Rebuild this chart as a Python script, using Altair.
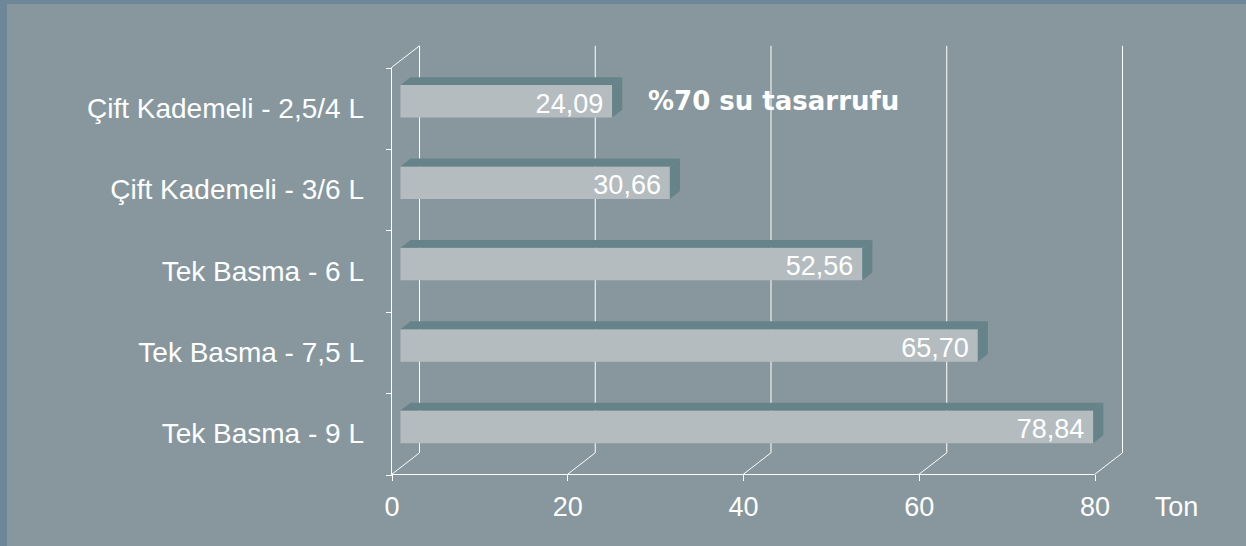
import altair as alt
import pandas as pd

# ---------------- data ----------------
CATEGORIES = [
    "Çift Kademeli - 2,5/4 L",
    "Çift Kademeli - 3/6 L",
    "Tek Basma - 6 L",
    "Tek Basma - 7,5 L",
    "Tek Basma - 9 L",
]
VALUES = [24.09, 30.66, 52.56, 65.70, 78.84]
VALUE_LABELS = ["24,09", "30,66", "52,56", "65,70", "78,84"]
X_TICKS = [0, 20, 40, 60, 80]
UNIT = "Ton"
NOTE = "%70 su tasarrufu"

# ---------------- layout / style ----------------
W, H = 1246, 546
X0_PX, PX_PER_X = 391.5, 8.7875      # pixel of value 0, pixels per unit
Y0_PX, PX_PER_BAND = 67.5, 81.4      # pixel of first band edge, band height
DEPTH_PX = (28.0, -21.7)             # 3D depth vector of the walls
BAR_DEPTH = (0.32, 0.68)             # bar front / back depth fractions
BAR_HALF = 0.2                       # half bar thickness in band units

BORDER = "#6e8798"
BG = "#87979d"
BAR_FRONT = "#b4bcbf"
BAR_DARK = "#66838a"
LINE = "#ffffff"
FONT = "Liberation Sans"
FONT_BOLD = "DejaVu Sans"

dxu = DEPTH_PX[0] / PX_PER_X
dyu = DEPTH_PX[1] / PX_PER_BAND
N = len(CATEGORIES)
FLOOR_PX = Y0_PX + N * PX_PER_BAND

x_scale = alt.Scale(domain=[-X0_PX / PX_PER_X, (W - X0_PX) / PX_PER_X], nice=False, zero=False)
y_scale = alt.Scale(domain=[-Y0_PX / PX_PER_BAND, (H - Y0_PX) / PX_PER_BAND],
                    nice=False, zero=False, reverse=True)

X_AXIS = alt.Axis(values=X_TICKS, orient="bottom", offset=-(H - FLOOR_PX), domain=False,
                  grid=False, ticks=True, tickSize=6, tickColor=LINE, tickWidth=1,
                  labelColor="white", labelFont=FONT, labelFontSize=27,
                  labelBaseline="alphabetic", labelPadding=35, labelFlush=False,
                  labelOverlap=False, labelBound=False, zindex=1,
                  title=UNIT, titleX=1176, titleY=41, titleAlign="center",
                  titleBaseline="alphabetic", titleAngle=0, titleFont=FONT,
                  titleFontSize=27, titleFontWeight="normal", titleColor="white")
Y_AXIS = alt.Axis(values=list(range(N + 1)), orient="left", offset=-X0_PX, domain=False,
                  grid=False, labels=False, ticks=True, tickSize=6, tickColor=LINE,
                  tickWidth=1, title=None, zindex=1)

# ---------------- derived tables ----------------
bars = pd.DataFrame({"cat": CATEGORIES, "value": VALUES, "label": VALUE_LABELS})
bars["c"] = [i + 0.5 for i in range(N)]
d0 = BAR_DEPTH[0]
bars["fx"] = d0 * dxu
bars["fx2"] = bars["value"] + d0 * dxu
bars["fy"] = bars["c"] - BAR_HALF + d0 * dyu
bars["fy2"] = bars["c"] + BAR_HALF + d0 * dyu

top_rows, side_rows = [], []
for cat, v, c in zip(CATEGORIES, VALUES, bars["c"]):
    for d in BAR_DEPTH:
        top_rows.append({"cat": cat, "y": c - BAR_HALF + d * dyu, "x": d * dxu, "x2": v + d * dxu})
        side_rows.append({"cat": cat, "x": v + d * dxu,
                          "y": c - BAR_HALF + d * dyu, "y2": c + BAR_HALF + d * dyu})
top_df = pd.DataFrame(top_rows)
side_df = pd.DataFrame(side_rows)

rules = []
for t in X_TICKS:
    rules.append({"x": t + dxu, "x2": t + dxu, "y": dyu, "y2": N + dyu})   # back wall grid
    rules.append({"x": t, "x2": t + dxu, "y": N, "y2": N + dyu})           # floor diagonal
rules.append({"x": 0, "x2": 0, "y": 0, "y2": N})                          # front vertical
rules.append({"x": 0, "x2": dxu, "y": 0, "y2": dyu})                      # left wall top
rules.append({"x": 0, "x2": X_TICKS[-1], "y": N, "y2": N})                # floor front
rules_df = pd.DataFrame(rules)

note_df = pd.DataFrame({"x": [VALUES[0]], "c": [0.5], "text": [NOTE]})

# ---------------- layers ----------------
frame = alt.Chart(pd.DataFrame({"k": [0]})).mark_rect(color=BG).encode(
    x=alt.value(7), x2=alt.value(W), y=alt.value(4), y2=alt.value(H)
)

axes_layer = alt.Chart(rules_df).mark_rule(color=LINE, strokeWidth=1).encode(
    x=alt.X("x:Q", scale=x_scale, axis=X_AXIS), x2="x2:Q",
    y=alt.Y("y:Q", scale=y_scale, axis=Y_AXIS), y2="y2:Q",
)

note = alt.Chart(note_df).mark_text(
    align="left", baseline="alphabetic", dx=44.8, dy=1.3, font=FONT_BOLD, fontSize=26,
    fontWeight="bold", color="white"
).encode(
    x=alt.X("x:Q", scale=x_scale, axis=X_AXIS),
    y=alt.Y("c:Q", scale=y_scale, axis=Y_AXIS),
    text="text:N",
)

front = alt.Chart(bars).mark_rect(color=BAR_FRONT).encode(
    x=alt.X("fx:Q", scale=x_scale, axis=X_AXIS), x2="fx2:Q",
    y=alt.Y("fy:Q", scale=y_scale, axis=Y_AXIS), y2="fy2:Q",
)

top = alt.Chart(top_df).mark_area(orient="horizontal", color=BAR_DARK).encode(
    y=alt.Y("y:Q", scale=y_scale, axis=Y_AXIS),
    x=alt.X("x:Q", scale=x_scale, axis=X_AXIS, stack=None), x2="x2:Q",
    detail="cat:N",
)

side = alt.Chart(side_df).mark_area(orient="vertical", color=BAR_DARK).encode(
    x=alt.X("x:Q", scale=x_scale, axis=X_AXIS),
    y=alt.Y("y:Q", scale=y_scale, axis=Y_AXIS, stack=None), y2="y2:Q",
    detail="cat:N",
)

cat_labels = alt.Chart(bars).mark_text(
    align="right", baseline="alphabetic", dx=-27.5, dy=9.5, font=FONT, fontSize=28, color="white"
).encode(
    x=alt.XDatum(0, type="quantitative", scale=x_scale, axis=X_AXIS),
    y=alt.Y("c:Q", scale=y_scale, axis=Y_AXIS),
    text="cat:N",
)

val_labels = alt.Chart(bars).mark_text(
    align="right", baseline="alphabetic", dx=0, dy=4.3, font=FONT, fontSize=27, color="white"
).encode(
    x=alt.X("value:Q", scale=x_scale, axis=X_AXIS),
    y=alt.Y("c:Q", scale=y_scale, axis=Y_AXIS),
    text="label:N",
)

chart = alt.layer(
    frame, note, axes_layer, front, top, side, cat_labels, val_labels
).properties(
    width=W, height=H, padding=0, background=BORDER,
    autosize=alt.AutoSizeParams(type="none"),
).configure_view(stroke=None)

chart.save("out.html", embed_options={"renderer": "svg", "actions": False})
